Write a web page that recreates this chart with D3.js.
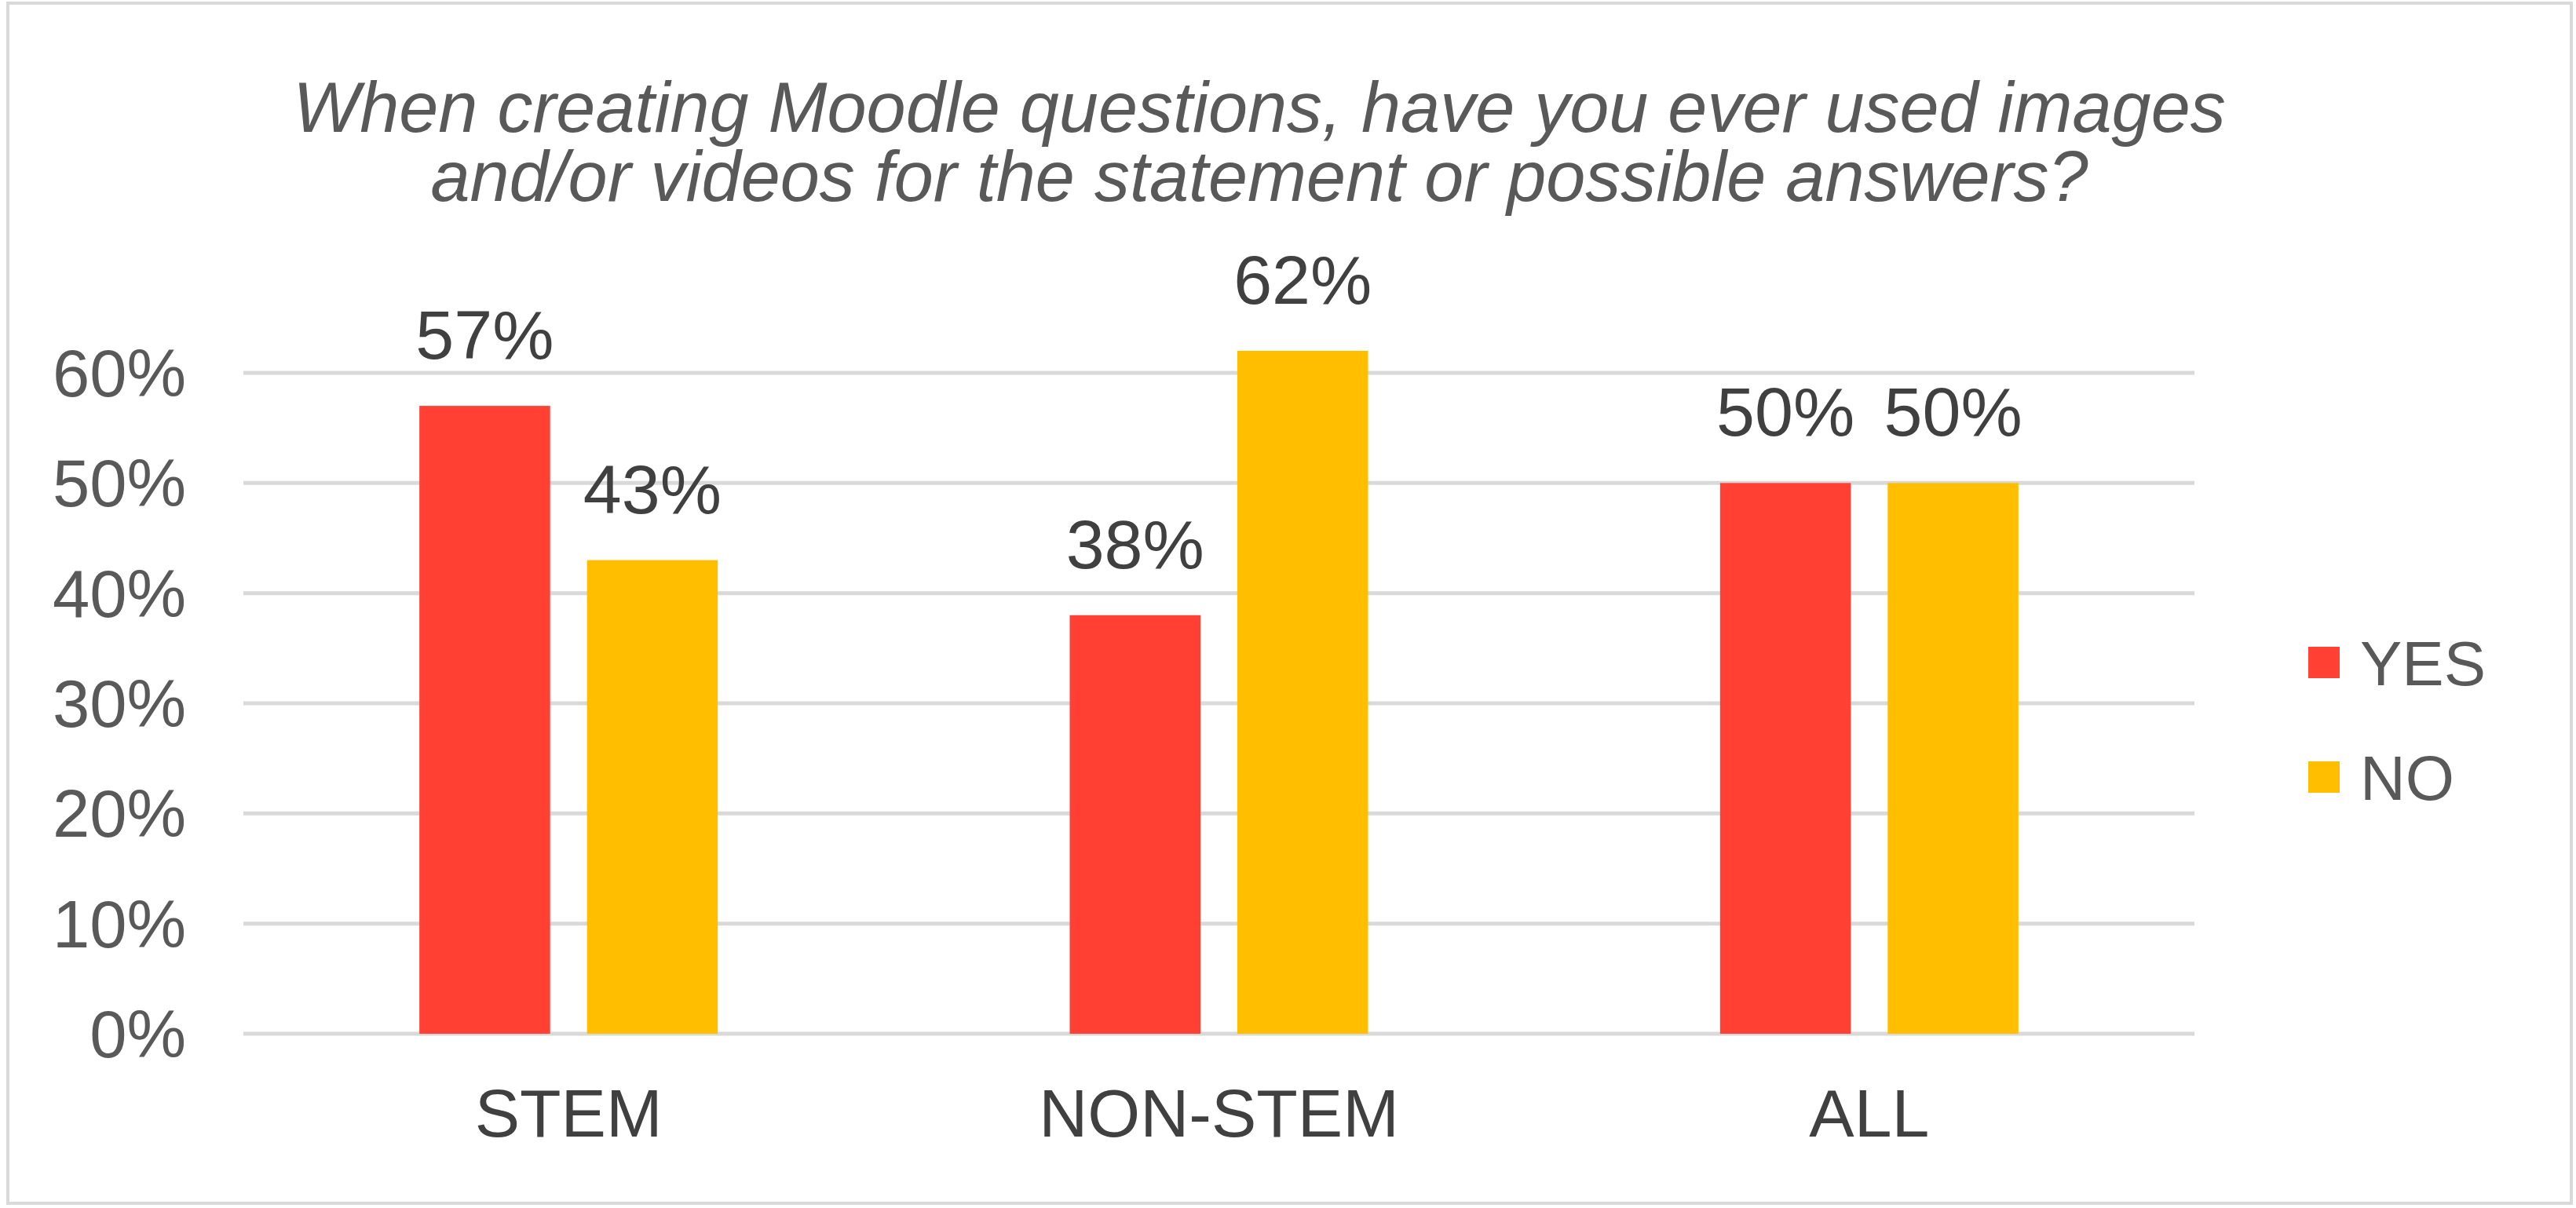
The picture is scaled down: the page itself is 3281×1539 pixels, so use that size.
<!DOCTYPE html>
<html lang="en">
<head>
<meta charset="UTF-8">
<title>Moodle images/videos</title>
<style>
  body, html { margin: 0; padding: 0; background: #fff; }
  svg { display: block; font-family: "Liberation Sans", Arial, sans-serif; }
</style>
</head>
<body>
<script src="https://d3js.org/d3.v7.min.js"></script>
<script>
// data
var categories = ["STEM", "NON-STEM", "ALL"];
var seriesNames = ["YES", "NO"];
var yesValues = [57, 38, 50];
var noValues = [43, 62, 50];
var yTicks = [0, 10, 20, 30, 40, 50, 60];
var colors = ["#FF4033", "#FFBF00"];

var width = 3281, height = 1539;
var svg = d3.select("body").append("svg")
    .attr("width", width)
    .attr("height", height);

// outer border
svg.append("rect")
    .attr("x", 10).attr("y", 4)
    .attr("width", width - 16).attr("height", height - 10)
    .attr("fill", "#fff").attr("stroke", "#d9d9d9").attr("stroke-width", 4);

// title
svg.append("text")
    .attr("text-anchor", "middle")
    .attr("font-style", "italic").attr("font-size", 90).attr("fill", "#595959")
    .selectAll("tspan")
    .data(["When creating Moodle questions, have you ever used images",
           "and/or videos for the statement or possible answers?"])
    .enter().append("tspan")
    .attr("x", 1604)
    .attr("y", function(d, i) { return 168 + i * 88; })
    .text(function(d) { return d; });

var x = d3.scaleBand().domain(categories).range([310, 2795]);
var xInner = d3.scaleBand().domain(seriesNames).range([0, x.bandwidth()])
    .paddingInner(0.22).paddingOuter(1.05);
var y = d3.scaleLinear().domain([0, 60]).range([1317, 475]);

// gridlines
svg.append("g").selectAll("line")
    .data(yTicks).enter().append("line")
    .attr("x1", 310).attr("x2", 2795)
    .attr("y1", function(d) { return y(d); })
    .attr("y2", function(d) { return y(d); })
    .attr("stroke", "#d9d9d9").attr("stroke-width", 5);

// y tick labels
svg.append("g").selectAll("text")
    .data(yTicks).enter().append("text")
    .attr("x", 237).attr("y", function(d) { return y(d) + 30; })
    .attr("text-anchor", "end").attr("font-size", 85).attr("fill", "#595959")
    .text(function(d) { return d + "%"; });

// bars
var rows = categories.map(function(c, i) {
  return { cat: c, vals: [yesValues[i], noValues[i]] };
});
var groups = svg.append("g").selectAll("g")
    .data(rows).enter().append("g")
    .attr("transform", function(d) { return "translate(" + x(d.cat) + ",0)"; });

groups.selectAll("rect")
    .data(function(d) { return d.vals.map(function(v, j) { return { s: seriesNames[j], v: v, j: j }; }); })
    .enter().append("rect")
    .attr("x", function(d) { return xInner(d.s); })
    .attr("width", xInner.bandwidth())
    .attr("y", function(d) { return y(d.v); })
    .attr("height", function(d) { return y(0) - y(d.v); })
    .attr("fill", function(d) { return colors[d.j]; });

groups.selectAll("text")
    .data(function(d) { return d.vals.map(function(v, j) { return { s: seriesNames[j], v: v }; }); })
    .enter().append("text")
    .attr("x", function(d) { return xInner(d.s) + xInner.bandwidth() / 2; })
    .attr("y", function(d) { return y(d.v) - 60; })
    .attr("text-anchor", "middle").attr("font-size", 88).attr("fill", "#404040")
    .text(function(d) { return d.v + "%"; });

// category labels
svg.append("g").selectAll("text")
    .data(categories).enter().append("text")
    .attr("x", function(d) { return x(d) + x.bandwidth() / 2; })
    .attr("y", 1448)
    .attr("text-anchor", "middle").attr("font-size", 86).attr("fill", "#404040")
    .text(function(d) { return d; });

// legend
var legend = svg.append("g").selectAll("g")
    .data(seriesNames).enter().append("g")
    .attr("transform", function(d, i) { return "translate(2940," + (844 + i * 146) + ")"; });
legend.append("rect")
    .attr("x", 0).attr("y", -20).attr("width", 40).attr("height", 40)
    .attr("fill", function(d, i) { return colors[i]; });
legend.append("text")
    .attr("x", 66).attr("y", 29)
    .attr("font-size", 80).attr("fill", "#595959")
    .text(function(d) { return d; });
</script>
</body>
</html>
